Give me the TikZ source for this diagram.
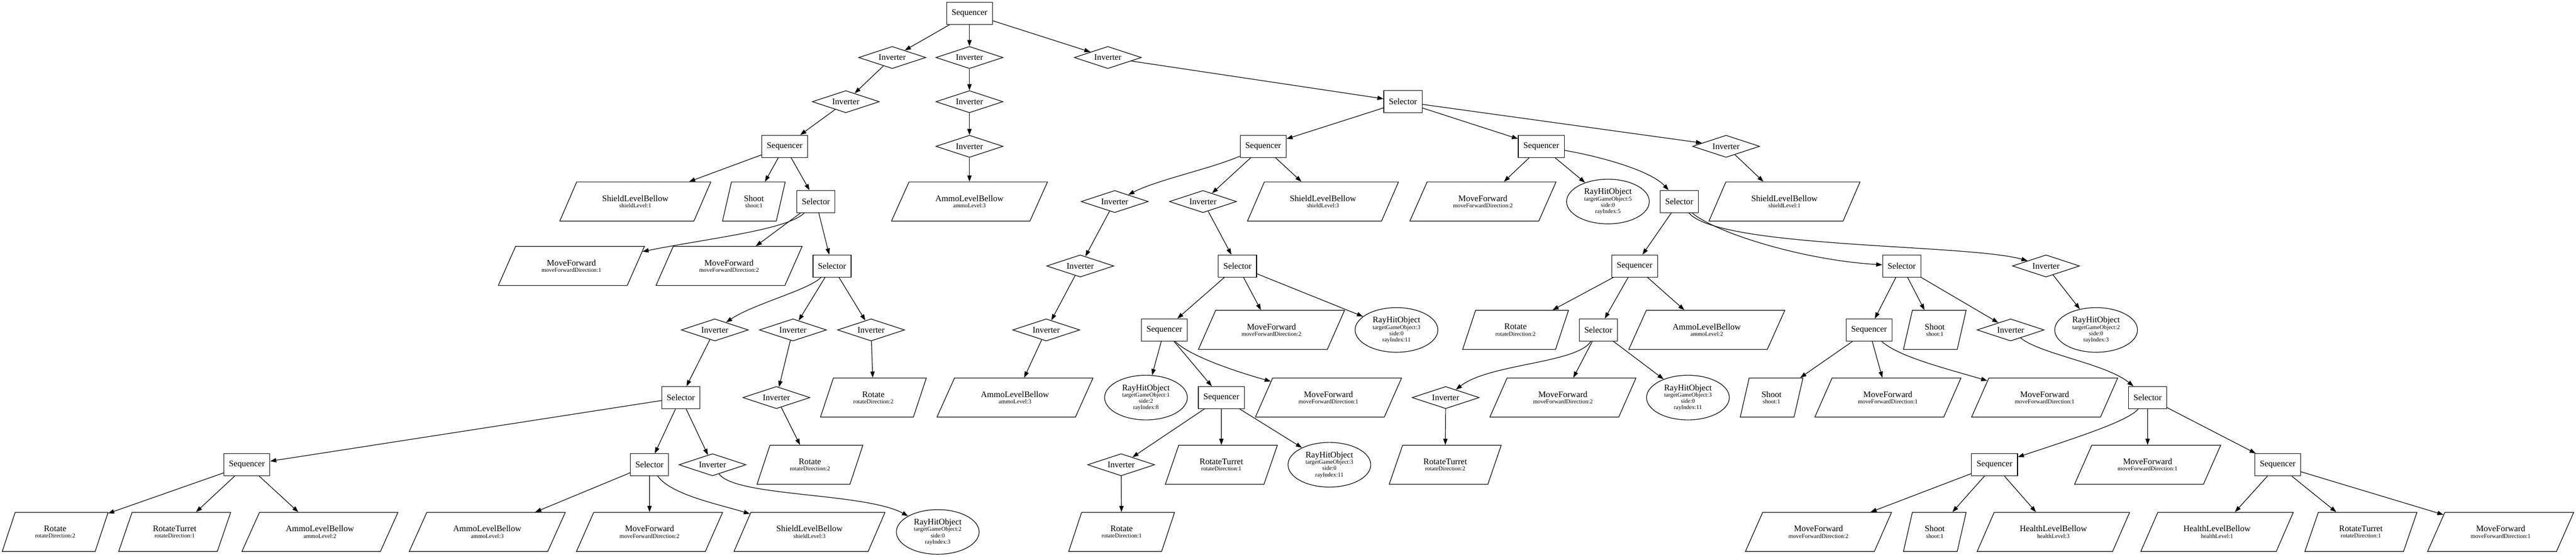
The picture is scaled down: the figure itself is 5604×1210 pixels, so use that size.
\documentclass[tikz,border=0pt]{standalone}
\usepackage{fontspec}
\setmainfont{Liberation Serif}
\usetikzlibrary{shapes.geometric,arrows.meta}
\newcommand\mtxt[1]{{\fontsize{14}{10.3}\selectfont #1}}
\tikzset{
 every node/.style={font=\fontsize{9.6}{10.3}\selectfont, inner sep=0pt, line width=1pt, align=center},
 seqbox/.style={draw, rectangle, minimum width=75pt, minimum height=36pt},
 selbox/.style={draw, rectangle, minimum width=62.25pt, minimum height=36pt},
 invnode/.style={draw, diamond, shape aspect=3, minimum width=109.5pt, minimum height=36pt},
 rayell/.style={draw, ellipse, minimum width=135pt, minimum height=72.75pt},
 para/.style={draw, trapezium, trapezium stretches=true, minimum height=63.75pt},
 pSLB/.style={para, minimum width=246.75pt, trapezium left angle=52.3, trapezium right angle=127.7},
 pALB/.style={para, minimum width=255pt, trapezium left angle=51.3, trapezium right angle=128.7},
 pShoot/.style={para, minimum width=102.75pt, trapezium left angle=72.1, trapezium right angle=107.9},
 pMF/.style={para, minimum width=238.5pt, trapezium left angle=53.2, trapezium right angle=126.8},
 pRot/.style={para, minimum width=173.25pt, trapezium left angle=61.6, trapezium right angle=118.4},
 pRT/.style={para, minimum width=183pt, trapezium left angle=60.3, trapezium right angle=119.7},
 pHLB/.style={para, minimum width=249pt, trapezium left angle=52.0, trapezium right angle=128.0},
 conn/.style={line width=1pt, -{Triangle[length=10pt,width=7pt]}}
}
\begin{document}
\begin{tikzpicture}[x=0.75pt, y=-0.75pt]
\fill[white] (0,0) rectangle (5604,1210);
\useasboundingbox (0,0) rectangle (5604,1210);
% ---------- internal nodes
\node[seqbox] (s0) at (2109,29) {\mtxt{Sequencer}};
\node[invnode] (i1) at (1941,125) {\mtxt{Inverter}};
\node[invnode] (i2) at (2109,125) {\mtxt{Inverter}};
\node[invnode] (i3) at (2410,125) {\mtxt{Inverter}};
\node[invnode] (i1a) at (1840,221) {\mtxt{Inverter}};
\node[invnode] (i2a) at (2109,221) {\mtxt{Inverter}};
\node[selbox] (selH) at (3052,221) {\mtxt{Selector}};
\node[seqbox] (seqA) at (1707,318) {\mtxt{Sequencer}};
\node[invnode] (i2b) at (2109,318) {\mtxt{Inverter}};
\node[seqbox] (seqJ) at (2748,318) {\mtxt{Sequencer}};
\node[seqbox] (seqK) at (3353,318) {\mtxt{Sequencer}};
\node[invnode] (invL) at (3755,318) {\mtxt{Inverter}};
\node[selbox] (selB) at (1775,438) {\mtxt{Selector}};
\node[invnode] (invJ1) at (2425,438) {\mtxt{Inverter}};
\node[invnode] (invJ2) at (2617,438) {\mtxt{Inverter}};
\node[selbox] (selM) at (3653,438) {\mtxt{Selector}};
\node[selbox] (selC) at (1810,578) {\mtxt{Selector}};
\node[invnode] (invJ1a) at (2350,578) {\mtxt{Inverter}};
\node[selbox] (selR) at (2692,578) {\mtxt{Selector}};
\node[seqbox] (seqN) at (3556,578) {\mtxt{Sequencer}};
\node[selbox] (selP) at (4137,578) {\mtxt{Selector}};
\node[invnode] (invQ) at (4451,578) {\mtxt{Inverter}};
\node[invnode] (invC1) at (1555,717) {\mtxt{Inverter}};
\node[invnode] (invC2) at (1725,717) {\mtxt{Inverter}};
\node[invnode] (invC3) at (1895,717) {\mtxt{Inverter}};
\node[invnode] (invJ1b) at (2276,717) {\mtxt{Inverter}};
\node[seqbox] (seqT) at (2533,717) {\mtxt{Sequencer}};
\node[selbox] (selV) at (3477,717) {\mtxt{Selector}};
\node[seqbox] (seqW) at (4066,717) {\mtxt{Sequencer}};
\node[invnode] (invX) at (4374,717) {\mtxt{Inverter}};
\node[selbox] (selD) at (1481,864) {\mtxt{Selector}};
\node[invnode] (invC2a) at (1689,864) {\mtxt{Inverter}};
\node[seqbox] (seqU) at (2657,864) {\mtxt{Sequencer}};
\node[invnode] (invV) at (3145,864) {\mtxt{Inverter}};
\node[selbox] (selY) at (4672,864) {\mtxt{Selector}};
\node[seqbox] (seqE) at (537,1010) {\mtxt{Sequencer}};
\node[selbox] (selF) at (1413,1010) {\mtxt{Selector}};
\node[invnode] (invG) at (1550,1010) {\mtxt{Inverter}};
\node[invnode] (invU) at (2439,1010) {\mtxt{Inverter}};
\node[seqbox] (seqZ) at (4339,1010) {\mtxt{Sequencer}};
\node[seqbox] (seqAA) at (4955,1010) {\mtxt{Sequencer}};
% ---------- leaves
\node[pSLB] (slbA) at (1382,438) {\mtxt{ShieldLevelBellow}\\shieldLevel:1};
\node[pShoot] (shootA) at (1640,438) {\mtxt{Shoot}\\shoot:1};
\node[pALB] (albC) at (2109,438) {\mtxt{AmmoLevelBellow}\\ammoLevel:3};
\node[pSLB] (slbC) at (2878,438) {\mtxt{ShieldLevelBellow}\\shieldLevel:3};
\node[pMF] (mfF) at (3226,438) {\mtxt{MoveForward}\\moveForwardDirection:2};
\node[rayell] (rhE) at (3498,438) {\mtxt{RayHitObject}\\targetGameObject:5\\side:0\\rayIndex:5};
\node[pSLB] (slbD) at (3882,438) {\mtxt{ShieldLevelBellow}\\shieldLevel:1};
\node[pMF] (mfA) at (1243,578) {\mtxt{MoveForward}\\moveForwardDirection:1};
\node[pMF] (mfB) at (1586,578) {\mtxt{MoveForward}\\moveForwardDirection:2};
\node[pMF] (mfD) at (2766,717) {\mtxt{MoveForward}\\moveForwardDirection:2};
\node[rayell] (rhB) at (3038,717) {\mtxt{RayHitObject}\\targetGameObject:3\\side:0\\rayIndex:11};
\node[pRot] (rotE) at (3297,717) {\mtxt{Rotate}\\rotateDirection:2};
\node[pALB] (albE) at (3713,717) {\mtxt{AmmoLevelBellow}\\ammoLevel:2};
\node[pShoot] (shootB) at (4209,717) {\mtxt{Shoot}\\shoot:1};
\node[rayell] (rhG) at (4560,717) {\mtxt{RayHitObject}\\targetGameObject:2\\side:0\\rayIndex:3};
\node[pRot] (rotC) at (1900,864) {\mtxt{Rotate}\\rotateDirection:2};
\node[pALB] (albD) at (2208,864) {\mtxt{AmmoLevelBellow}\\ammoLevel:3};
\node[rayell] (rhC) at (2493,864) {\mtxt{RayHitObject}\\targetGameObject:1\\side:2\\rayIndex:8};
\node[pMF] (mfE) at (2890,864) {\mtxt{MoveForward}\\moveForwardDirection:1};
\node[pMF] (mfG) at (3400,864) {\mtxt{MoveForward}\\moveForwardDirection:2};
\node[rayell] (rhF) at (3672,864) {\mtxt{RayHitObject}\\targetGameObject:3\\side:0\\rayIndex:11};
\node[pShoot] (shootC) at (3854,864) {\mtxt{Shoot}\\shoot:1};
\node[pMF] (mfH) at (4107,864) {\mtxt{MoveForward}\\moveForwardDirection:1};
\node[pMF] (mfI) at (4448,864) {\mtxt{MoveForward}\\moveForwardDirection:1};
\node[pRot] (rotB) at (1762,1010) {\mtxt{Rotate}\\rotateDirection:2};
\node[pRT] (rtB) at (2657,1010) {\mtxt{RotateTurret}\\rotateDirection:1};
\node[rayell] (rhD) at (2892,1010) {\mtxt{RayHitObject}\\targetGameObject:3\\side:0\\rayIndex:11};
\node[pRT] (rtC) at (3144,1010) {\mtxt{RotateTurret}\\rotateDirection:2};
\node[pMF] (mfJ) at (4672,1010) {\mtxt{MoveForward}\\moveForwardDirection:1};
\node[pRot] (rotA) at (120,1156) {\mtxt{Rotate}\\rotateDirection:2};
\node[pRT] (rtA) at (380,1156) {\mtxt{RotateTurret}\\rotateDirection:1};
\node[pALB] (albA) at (696,1156) {\mtxt{AmmoLevelBellow}\\ammoLevel:2};
\node[pALB] (albB) at (1060,1156) {\mtxt{AmmoLevelBellow}\\ammoLevel:3};
\node[pMF] (mfC) at (1413,1156) {\mtxt{MoveForward}\\moveForwardDirection:2};
\node[pSLB] (slbB) at (1761,1156) {\mtxt{ShieldLevelBellow}\\shieldLevel:3};
\node[rayell] (rhA) at (2040,1156) {\mtxt{RayHitObject}\\targetGameObject:2\\side:0\\rayIndex:3};
\node[pRot] (rotD) at (2440,1156) {\mtxt{Rotate}\\rotateDirection:1};
\node[pMF] (mfK) at (3956,1156) {\mtxt{MoveForward}\\moveForwardDirection:2};
\node[pShoot] (shootD) at (4209,1156) {\mtxt{Shoot}\\shoot:1};
\node[pHLB] (hlbA) at (4467,1156) {\mtxt{HealthLevelBellow}\\healthLevel:3};
\node[pHLB] (hlbB) at (4823,1156) {\mtxt{HealthLevelBellow}\\healthLevel:1};
\node[pRT] (rtD) at (5136,1156) {\mtxt{RotateTurret}\\rotateDirection:1};
\node[pMF] (mfL) at (5440,1156) {\mtxt{MoveForward}\\moveForwardDirection:1};
% ---------- connectors
\draw[conn] (s0) -- (i1);
\draw[conn] (s0) -- (i2);
\draw[conn] (s0) -- (i3);
\draw[conn] (i1) -- (i1a);
\draw[conn] (i1a) -- (seqA);
\draw[conn] (seqA) -- (slbA);
\draw[conn] (seqA) -- (shootA);
\draw[conn] (seqA) -- (selB);
\draw[conn] (selB) .. controls (1712,500) and (1540,518) .. (mfA);
\draw[conn] (selB) -- (mfB);
\draw[conn] (selB) -- (selC);
\draw[conn] (selC) .. controls (1760,630) and (1640,660) .. (invC1);
\draw[conn] (selC) -- (invC2);
\draw[conn] (selC) -- (invC3);
\draw[conn] (invC1) -- (selD);
\draw[conn] (invC2) -- (invC2a);
\draw[conn] (invC2a) -- (rotB);
\draw[conn] (invC3) -- (rotC);
\draw[conn] (selD) -- (seqE);
\draw[conn] (selD) -- (selF);
\draw[conn] (selD) -- (invG);
\draw[conn] (seqE) -- (rotA);
\draw[conn] (seqE) -- (rtA);
\draw[conn] (seqE) -- (albA);
\draw[conn] (selF) -- (albB);
\draw[conn] (selF) -- (mfC);
\draw[conn] (selF) .. controls (1460,1075) and (1560,1095) .. (slbB);
\draw[conn] (invG) .. controls (1600,1080) and (1880,1070) .. (rhA);
\draw[conn] (i2) -- (i2a);
\draw[conn] (i2a) -- (i2b);
\draw[conn] (i2b) -- (albC);
\draw[conn] (i3) -- (selH);
\draw[conn] (selH) -- (seqJ);
\draw[conn] (selH) -- (seqK);
\draw[conn] (selH) -- (invL);
\draw[conn] (seqJ) .. controls (2630,368) and (2520,390) .. (invJ1);
\draw[conn] (seqJ) -- (invJ2);
\draw[conn] (seqJ) -- (slbC);
\draw[conn] (invJ1) -- (invJ1a);
\draw[conn] (invJ1a) -- (invJ1b);
\draw[conn] (invJ1b) -- (albD);
\draw[conn] (invJ2) -- (selR);
\draw[conn] (selR) -- (seqT);
\draw[conn] (selR) -- (mfD);
\draw[conn] (selR) -- (rhB);
\draw[conn] (seqT) -- (rhC);
\draw[conn] (seqT) -- (seqU);
\draw[conn] (seqT) .. controls (2585,772) and (2680,805) .. (mfE);
\draw[conn] (seqU) -- (invU);
\draw[conn] (seqU) -- (rtB);
\draw[conn] (seqU) -- (rhD);
\draw[conn] (invU) -- (rotD);
\draw[conn] (seqK) -- (mfF);
\draw[conn] (seqK) -- (rhE);
\draw[conn] (seqK) .. controls (3480,340) and (3590,370) .. (selM);
\draw[conn] (invL) -- (slbD);
\draw[conn] (selM) -- (seqN);
\draw[conn] (selM) .. controls (3730,505) and (3920,565) .. (selP);
\draw[conn] (selM) .. controls (3740,540) and (4280,530) .. (invQ);
\draw[conn] (seqN) -- (rotE);
\draw[conn] (seqN) -- (selV);
\draw[conn] (seqN) -- (albE);
\draw[conn] (selV) .. controls (3430,790) and (3240,790) .. (invV);
\draw[conn] (selV) -- (mfG);
\draw[conn] (selV) -- (rhF);
\draw[conn] (invV) -- (rtC);
\draw[conn] (selP) -- (seqW);
\draw[conn] (selP) -- (shootB);
\draw[conn] (selP) -- (invX);
\draw[conn] (invQ) -- (rhG);
\draw[conn] (seqW) -- (shootC);
\draw[conn] (seqW) -- (mfH);
\draw[conn] (seqW) .. controls (4130,775) and (4230,800) .. (mfI);
\draw[conn] (invX) .. controls (4440,770) and (4580,790) .. (selY);
\draw[conn] (selY) .. controls (4630,915) and (4520,950) .. (seqZ);
\draw[conn] (selY) -- (mfJ);
\draw[conn] (selY) -- (seqAA);
\draw[conn] (seqZ) -- (mfK);
\draw[conn] (seqZ) -- (shootD);
\draw[conn] (seqZ) -- (hlbA);
\draw[conn] (seqAA) -- (hlbB);
\draw[conn] (seqAA) -- (rtD);
\draw[conn] (seqAA) -- (mfL);
\end{tikzpicture}
\end{document}
